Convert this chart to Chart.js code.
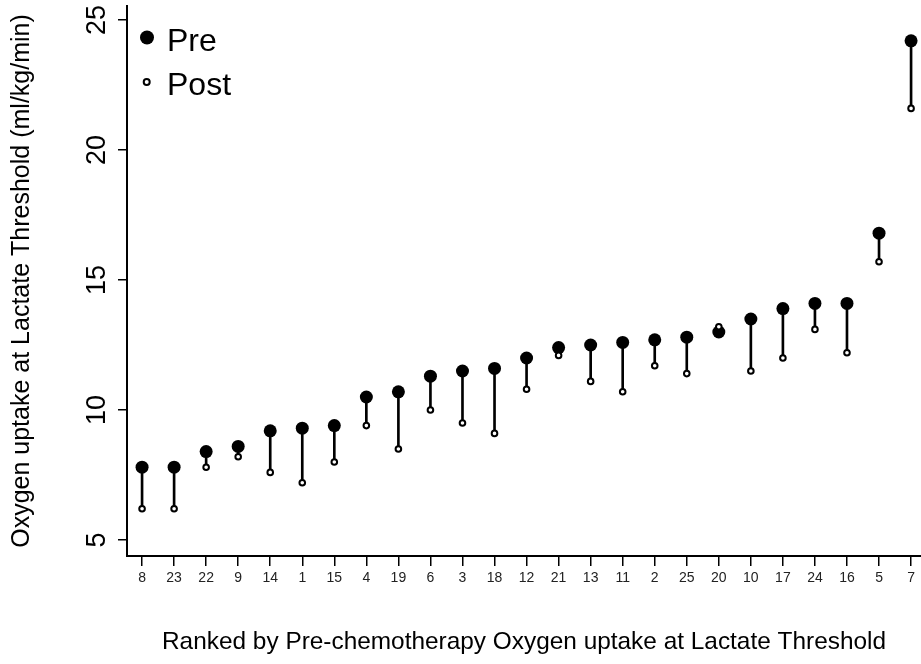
<!DOCTYPE html>
<html>
<head>
<meta charset="utf-8">
<title>Oxygen uptake at Lactate Threshold</title>
<script src="https://cdn.jsdelivr.net/npm/chart.js@4"></script>
<style>
  html, body { margin: 0; padding: 0; background: #fff; }
  canvas { display: block; }
</style>
</head>
<body>
<canvas id="vo2Chart" width="921" height="664"></canvas>
<script>
// patients ranked by pre-chemotherapy VO2 at lactate threshold
const patientIds = [8, 23, 22, 9, 14, 1, 15, 4, 19, 6, 3, 18, 12, 21, 13, 11, 2, 25, 20, 10, 17, 24, 16, 5, 7];
const preValues = [7.8, 7.8, 8.4, 8.6, 9.2, 9.3, 9.4, 10.5, 10.7, 11.3, 11.5, 11.6, 12.0, 12.4, 12.5, 12.6, 12.7, 12.8, 13.0, 13.5, 13.9, 14.1, 14.1, 16.8, 24.2];
const postValues = [6.2, 6.2, 7.8, 8.2, 7.6, 7.2, 8.0, 9.4, 8.5, 10.0, 9.5, 9.1, 10.8, 12.1, 11.1, 10.7, 11.7, 11.4, 13.2, 11.5, 12.0, 13.1, 12.2, 15.7, 21.6];
const yTicks = [5, 10, 15, 20, 25];

const FONT = "'Liberation Sans', Arial, Helvetica, sans-serif";
const positions = patientIds.map((id, i) => i + 1);

// rotated y tick labels + legend in the top-left corner
const annotate = {
  id: 'annotate',
  afterDraw(chart) {
    const ctx = chart.ctx;
    const y = chart.scales.y;
    ctx.save();
    ctx.fillStyle = '#000';
    ctx.font = '27px ' + FONT;
    ctx.textAlign = 'center';
    ctx.textBaseline = 'alphabetic';
    yTicks.forEach(v => {
      ctx.save();
      ctx.translate(105, y.getPixelForValue(v));
      ctx.rotate(-Math.PI / 2);
      ctx.fillText(String(v), 0, 0);
      ctx.restore();
    });

    // legend
    const pre = chart.data.datasets[0];
    const post = chart.data.datasets[1];
    ctx.beginPath();
    ctx.arc(147, 37.5, 7, 0, Math.PI * 2);
    ctx.fillStyle = pre.backgroundColor;
    ctx.fill();
    ctx.beginPath();
    ctx.arc(146.7, 82, 3, 0, Math.PI * 2);
    ctx.fillStyle = post.backgroundColor;
    ctx.fill();
    ctx.lineWidth = post.borderWidth;
    ctx.strokeStyle = post.borderColor;
    ctx.stroke();

    ctx.fillStyle = '#000';
    ctx.font = '32px ' + FONT;
    ctx.textAlign = 'left';
    ctx.fillText(pre.label, 167, 51);
    ctx.fillText(post.label, 167, 94.5);
    ctx.restore();
  }
};

new Chart(document.getElementById('vo2Chart'), {
  type: 'bar',
  data: {
    datasets: [
      {
        type: 'scatter',
        label: 'Pre',
        data: positions.map((x, i) => ({ x: x, y: preValues[i] })),
        pointRadius: 6.5,
        pointHoverRadius: 6.5,
        backgroundColor: '#000',
        borderColor: '#000',
        borderWidth: 0,
        order: 1
      },
      {
        type: 'scatter',
        label: 'Post',
        data: positions.map((x, i) => ({ x: x, y: postValues[i] })),
        pointRadius: 2.8,
        pointHoverRadius: 2.8,
        backgroundColor: '#fff',
        borderColor: '#000',
        borderWidth: 2,
        order: 0
      },
      {
        // stem from pre to post value
        type: 'bar',
        label: 'change',
        data: positions.map((x, i) => ({ x: x, y: [postValues[i], preValues[i]] })),
        backgroundColor: '#000',
        borderWidth: 0,
        barThickness: 2,
        order: 2
      }
    ]
  },
  options: {
    responsive: false,
    animation: false,
    devicePixelRatio: 1,
    layout: { autoPadding: false, padding: { top: 6, right: 0, bottom: 0, left: 0 } },
    plugins: {
      legend: { display: false },
      tooltip: { enabled: false }
    },
    scales: {
      x: {
        type: 'linear',
        min: 0.53,
        max: 25.31,
        offset: false,
        afterBuildTicks: scale => { scale.ticks = positions.map(v => ({ value: v })); },
        afterFit: scale => {
          scale.height = 108;
          scale.paddingLeft = 0;
          scale.paddingRight = 0;
        },
        ticks: {
          autoSkip: false,
          maxRotation: 0,
          padding: 4,
          color: '#222',
          font: { family: FONT, size: 14 },
          callback: v => patientIds[v - 1]
        },
        grid: {
          display: true,
          offset: false,
          drawOnChartArea: false,
          drawTicks: true,
          tickLength: 10,
          color: '#000',
          lineWidth: 1.5
        },
        border: { display: true, color: '#000', width: 2 },
        title: {
          display: true,
          text: 'Ranked by Pre-chemotherapy Oxygen uptake at Lactate Threshold',
          color: '#000',
          font: { family: FONT, size: 24.4 },
          padding: { top: 0, bottom: 7 }
        }
      },
      y: {
        type: 'linear',
        min: 4.385,
        max: 25.538,
        afterBuildTicks: scale => { scale.ticks = yTicks.map(v => ({ value: v })); },
        afterFit: scale => {
          scale.width = 127;
          scale.paddingTop = 0;
          scale.paddingBottom = 0;
        },
        ticks: { display: false },
        grid: {
          display: true,
          drawOnChartArea: false,
          drawTicks: true,
          tickLength: 9,
          color: '#000',
          lineWidth: 1.5
        },
        border: { display: true, color: '#000', width: 2 },
        title: {
          display: true,
          text: 'Oxygen uptake at Lactate Threshold (ml/kg/min)',
          color: '#000',
          font: { family: FONT, size: 25 },
          padding: { top: 7, bottom: 0 }
        }
      }
    }
  },
  plugins: [annotate]
});
</script>
</body>
</html>
